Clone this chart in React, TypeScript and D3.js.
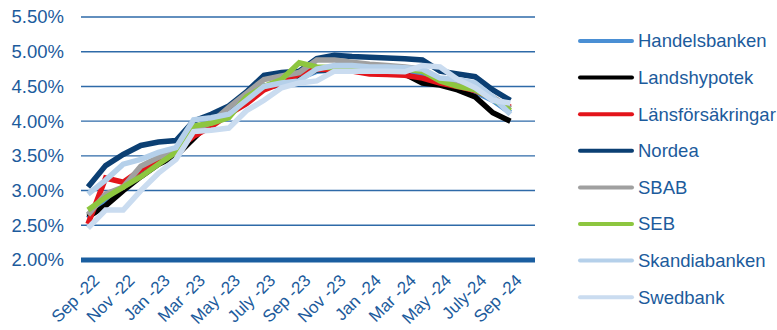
import React from "react";
import * as d3 from "d3";

// Monthly mortgage rates, Sep-22 .. Sep-24
const months = [
  "2022-09", "2022-10", "2022-11", "2022-12", "2023-01", "2023-02", "2023-03",
  "2023-04", "2023-05", "2023-06", "2023-07", "2023-08", "2023-09", "2023-10",
  "2023-11", "2023-12", "2024-01", "2024-02", "2024-03", "2024-04", "2024-05",
  "2024-06", "2024-07", "2024-08", "2024-09",
];

const tickLabels = [
  "Sep -22", "Nov -22", "Jan -23", "Mar -23", "May -23", "July -23", "Sep -23",
  "Nov -23", "Jan -24", "Mar -24", "May -24", "July-24", "Sep -24",
];

const yTicks = [2.0, 2.5, 3.0, 3.5, 4.0, 4.5, 5.0, 5.5];

const handelsbanken = [2.6, 2.85, 3.05, 3.25, 3.4, 3.55, 3.8, 3.95, 4.15, 4.3, 4.5, 4.55, 4.62, 4.72, 4.74, 4.73, 4.72, 4.71, 4.7, 4.65, 4.55, 4.48, 4.42, 4.3, 4.12];
const landshypotek = [2.62, 2.78, 3.0, 3.2, 3.38, 3.5, 3.75, 4.0, 4.15, 4.3, 4.5, 4.52, 4.62, 4.74, 4.74, 4.72, 4.72, 4.7, 4.68, 4.55, 4.52, 4.45, 4.35, 4.12, 4.0];
const lansforsakringar = [2.52, 3.18, 3.12, 3.3, 3.45, 3.6, 3.78, 3.92, 4.1, 4.25, 4.45, 4.55, 4.68, 4.75, 4.74, 4.72, 4.68, 4.67, 4.66, 4.62, 4.55, 4.5, 4.44, 4.33, 4.2];
const nordea = [3.05, 3.36, 3.52, 3.65, 3.7, 3.72, 4.0, 4.1, 4.22, 4.42, 4.66, 4.7, 4.72, 4.9, 4.95, 4.93, 4.92, 4.91, 4.9, 4.88, 4.72, 4.68, 4.64, 4.45, 4.3];
const sbab = [2.65, 2.95, 3.05, 3.35, 3.48, 3.55, 3.88, 3.98, 4.2, 4.4, 4.6, 4.65, 4.7, 4.88, 4.88, 4.85, 4.82, 4.8, 4.78, 4.75, 4.6, 4.52, 4.45, 4.35, 4.18];
const seb = [2.72, 2.9, 3.05, 3.2, 3.38, 3.55, 3.93, 3.97, 4.05, 4.35, 4.5, 4.6, 4.84, 4.78, 4.77, 4.77, 4.76, 4.76, 4.75, 4.72, 4.58, 4.5, 4.45, 4.32, 4.15];
const skandiabanken = [2.95, 3.15, 3.38, 3.45, 3.55, 3.62, 4.02, 4.05, 4.1, 4.3, 4.5, 4.55, 4.58, 4.75, 4.8, 4.8, 4.78, 4.78, 4.77, 4.75, 4.62, 4.6, 4.55, 4.35, 4.1];
const swedbank = [2.46, 2.72, 2.72, 3.0, 3.25, 3.45, 3.85, 3.87, 3.9, 4.15, 4.3, 4.48, 4.55, 4.58, 4.72, 4.72, 4.72, 4.72, 4.71, 4.8, 4.78, 4.6, 4.48, 4.3, 4.26];

const seriesNames = ["Handelsbanken", "Landshypotek", "Länsförsäkringar", "Nordea", "SBAB", "SEB", "Skandiabanken", "Swedbank"];
const seriesValues = [handelsbanken, landshypotek, lansforsakringar, nordea, sbab, seb, skandiabanken, swedbank];
const seriesColors = ["#4a8fd4", "#000000", "#e3141b", "#0b3f73", "#a0a0a0", "#8dc63f", "#b5d0ea", "#cadcf0"];

const textColor = "#1c5b9c";
const gridColor = "#2e6aa8";

export default function App() {
  const width = 777;
  const height = 330;
  const plotLeft = 81;
  const plotRight = 535;

  const x = d3.scalePoint<string>().domain(months).range([88, 510.4]);
  const y = d3.scaleLinear().domain([2, 5.5]).range([260, 17]);

  const line = d3
    .line<number>()
    .x((_, i) => x(months[i]) as number)
    .y((d) => y(d));

  const tickMonths = months.filter((_, i) => i % 2 === 0);

  return (
    <svg
      width={width}
      height={height}
      style={{ position: "absolute", left: 0, top: 0, background: "#fff" }}
      fontFamily="'Liberation Sans', Arial, sans-serif"
    >
      {/* horizontal gridlines */}
      {yTicks.map((t) => (
        <g key={t}>
          <line
            x1={plotLeft}
            x2={plotRight}
            y1={y(t)}
            y2={y(t)}
            stroke={t === 2 ? "#1a5ea0" : gridColor}
            strokeWidth={t === 2 ? 5 : 1.4}
          />
          <text
            x={64}
            y={y(t)}
            dy="0.35em"
            textAnchor="end"
            fontSize={18.5}
            fill={textColor}
          >
            {t.toFixed(2)}%
          </text>
        </g>
      ))}

      {/* series lines */}
      {seriesValues.map((vals, k) => (
        <path
          key={seriesNames[k]}
          d={line(vals) ?? ""}
          fill="none"
          stroke={seriesColors[k]}
          strokeWidth={5.5}
          strokeLinejoin="miter"
          strokeLinecap="butt"
        />
      ))}

      {/* x axis labels */}
      {tickMonths.map((m, i) => {
        const px = (x(m) as number) + 4;
        const py = 273;
        return (
          <text
            key={m}
            x={px}
            y={py}
            transform={`rotate(-45, ${px}, ${py})`}
            textAnchor="end"
            dominantBaseline="hanging"
            fontSize={17}
            fill={textColor}
          >
            {tickLabels[i]}
          </text>
        );
      })}

      {/* legend */}
      {seriesNames.map((name, k) => {
        const cy = 41 + k * 36.6;
        return (
          <g key={name}>
            <line
              x1={580}
              x2={632}
              y1={cy}
              y2={cy}
              stroke={seriesColors[k]}
              strokeWidth={4}
              strokeLinecap="round"
            />
            <text x={638} y={cy} dy="0.35em" fontSize={18.5} fill={textColor}>
              {name}
            </text>
          </g>
        );
      })}
    </svg>
  );
}
